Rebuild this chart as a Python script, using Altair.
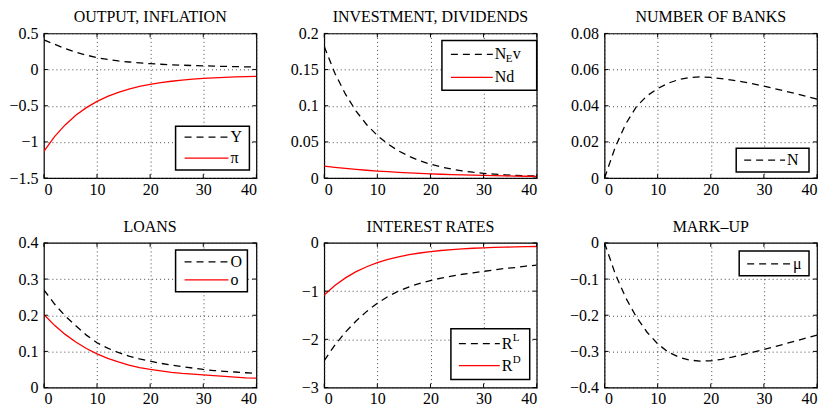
import altair as alt
import pandas as pd

# ---------------- data ----------------
t = [0, 2, 4, 6, 8, 10, 12, 14, 16, 18, 20, 22, 24, 26, 28, 30, 32, 34, 36, 38, 40]

output_Y = [0.41, 0.35, 0.29, 0.24, 0.20, 0.165, 0.14, 0.12, 0.105, 0.092, 0.082,
            0.074, 0.067, 0.061, 0.056, 0.052, 0.048, 0.044, 0.041, 0.038, 0.035]
inflation_pi = [-1.13, -0.927, -0.765, -0.632, -0.526, -0.440, -0.371, -0.315, -0.269, -0.233, -0.204,
                -0.180, -0.161, -0.145, -0.133, -0.122, -0.114, -0.108, -0.102, -0.098, -0.095]

invest_NEv = [0.182, 0.145, 0.116, 0.0925, 0.0738, 0.0589, 0.0470, 0.0375, 0.0300, 0.0240, 0.0192,
              0.0154, 0.0124, 0.0100, 0.0081, 0.0066, 0.0054, 0.0045, 0.0038, 0.0032, 0.0028]
dividends_Nd = [0.0165, 0.0148, 0.0133, 0.0120, 0.0108, 0.0097, 0.0088, 0.0080, 0.0072, 0.0065, 0.0059,
                0.0053, 0.0048, 0.0044, 0.0040, 0.0036, 0.0033, 0.0030, 0.0027, 0.0025, 0.0023]

banks_N = [0.0, 0.0170, 0.0300, 0.0395, 0.0455, 0.0495, 0.0525, 0.0545, 0.0556, 0.0560, 0.0557,
           0.0550, 0.0542, 0.0532, 0.0521, 0.0509, 0.0495, 0.0481, 0.0467, 0.0452, 0.0437]

loans_O = [0.270, 0.231, 0.198, 0.171, 0.145, 0.124, 0.109, 0.097, 0.087, 0.079, 0.073,
           0.067, 0.062, 0.058, 0.054, 0.050, 0.047, 0.045, 0.043, 0.041, 0.039]
loans_o = [0.202, 0.172, 0.147, 0.126, 0.108, 0.093, 0.081, 0.071, 0.062, 0.055, 0.050,
           0.046, 0.042, 0.039, 0.037, 0.035, 0.033, 0.031, 0.029, 0.027, 0.026]

rate_RL = [-2.44, -2.12, -1.85, -1.62, -1.42, -1.25, -1.11, -1.00, -0.91, -0.84, -0.78,
           -0.73, -0.69, -0.65, -0.62, -0.59, -0.56, -0.53, -0.51, -0.48, -0.46]
rate_RD = [-1.08, -0.883, -0.725, -0.597, -0.494, -0.410, -0.343, -0.288, -0.244, -0.209, -0.180,
           -0.157, -0.138, -0.123, -0.111, -0.101, -0.093, -0.087, -0.082, -0.078, -0.074]

markup_mu = [0.0, -0.085, -0.152, -0.205, -0.247, -0.279, -0.302, -0.316, -0.324, -0.327, -0.326,
             -0.322, -0.316, -0.309, -0.302, -0.295, -0.287, -0.279, -0.271, -0.263, -0.255]

x_ticks = [0, 10, 20, 30, 40]

# ---------------- style ----------------
W, H = 213, 145
FONT = "Liberation Serif"
BLACK = "#000000"
RED = "#ff0000"
DASH = [7, 5]
LW = 1.3
FS = 16

AXIS_STYLE = dict(grid=True, gridDash=[1, 3], gridColor="#333", gridOpacity=0.9, gridWidth=1,
                  ticks=False, domain=False, labelFont=FONT, labelFontSize=FS, labelColor=BLACK,
                  title=None)


def panel(title, series, ydom, yticks, legend):
    xaxis = alt.Axis(values=x_ticks, format="d", labelPadding=3, **AXIS_STYLE)
    yaxis = alt.Axis(values=yticks, format=".2~f", labelPadding=6, **AXIS_STYLE)
    xs = alt.Scale(domain=[0, 40], nice=False, zero=False)
    ys = alt.Scale(domain=ydom, nice=False, zero=False)
    X = alt.X("t:Q", scale=xs, axis=xaxis)
    Y = alt.Y("v:Q", scale=ys, axis=yaxis)

    layers = []
    for vals, color, dash in series:
        df = pd.DataFrame({"t": t, "v": vals})
        props = dict(color=color, strokeWidth=LW, clip=True)
        if dash:
            props["strokeDash"] = dash
        layers.append(alt.Chart(df).mark_line(**props).encode(x=X, y=Y))

    # inward tick marks (MATLAB style)
    xt = pd.DataFrame({"t": x_ticks})
    yt = pd.DataFrame({"v": yticks})
    for y1, y2 in [(0, 4), (H - 4, H)]:
        layers.append(alt.Chart(xt).mark_rule(color=BLACK, strokeWidth=1).encode(
            x=X, y=alt.value(y1), y2=alt.value(y2)))
    for x1, x2 in [(0, 4), (W - 4, W)]:
        layers.append(alt.Chart(yt).mark_rule(color=BLACK, strokeWidth=1).encode(
            y=Y, x=alt.value(x1), x2=alt.value(x2)))

    # legend box
    one = pd.DataFrame({"a": [0]})
    bx1, bx2, by1, by2 = legend["box"]
    layers.append(alt.Chart(one).mark_rect(fill="white", stroke=BLACK, strokeWidth=1.5).encode(
        x=alt.value(bx1), x2=alt.value(bx2), y=alt.value(by1), y2=alt.value(by2)))
    lx1, lx2 = legend["line"]
    for ly, color, dash, parts in legend["entries"]:
        props = dict(color=color, strokeWidth=LW)
        if dash:
            props["strokeDash"] = dash
        layers.append(alt.Chart(one).mark_rule(**props).encode(
            x=alt.value(lx1), x2=alt.value(lx2), y=alt.value(ly)))
        for (txt, dx, dy, fs) in parts:
            layers.append(alt.Chart(one).mark_text(
                text=txt, align="left", baseline="middle", font=FONT, fontSize=fs, color=BLACK
            ).encode(x=alt.value(lx2 + 2 + dx), y=alt.value(ly + dy)))

    return alt.layer(*layers).properties(
        width=W, height=H,
        title=alt.TitleParams(title, font=FONT, fontSize=FS, fontWeight="normal", color=BLACK, offset=0),
    )


p1 = panel("OUTPUT, INFLATION",
           [(output_Y, BLACK, DASH), (inflation_pi, RED, None)],
           [-1.5, 0.5], [-1.5, -1, -0.5, 0, 0.5],
           {"box": (132, 206, 93, 137), "line": (141, 185),
            "entries": [(104, BLACK, DASH, [("Y", 0, 0, FS)]),
                        (125, RED, None, [("π", 0, 0, FS)])]})
p2 = panel("INVESTMENT, DIVIDENDS",
           [(invest_NEv, BLACK, DASH), (dividends_Nd, RED, None)],
           [0, 0.2], [0, 0.05, 0.1, 0.15, 0.2],
           {"box": (118, 213, 7, 57), "line": (127, 169),
            "entries": [(21, BLACK, DASH, [("N", 0, 0, FS), ("E", 11, 5, 11), ("v", 18, 0, FS)]),
                        (44, RED, None, [("Nd", 0, 0, FS)])]})
p3 = panel("NUMBER OF BANKS",
           [(banks_N, BLACK, DASH)],
           [0, 0.08], [0, 0.02, 0.04, 0.06, 0.08],
           {"box": (132, 205, 115, 139), "line": (140, 181),
            "entries": [(127, BLACK, DASH, [("N", 0, 0, FS)])]})
p4 = panel("LOANS",
           [(loans_O, BLACK, DASH), (loans_o, RED, None)],
           [0, 0.4], [0, 0.1, 0.2, 0.3, 0.4],
           {"box": (132, 204, 7, 49), "line": (141, 185),
            "entries": [(19, BLACK, DASH, [("O", 0, 0, FS)]),
                        (37, RED, None, [("o", 0, 0, FS)])]})
p5 = panel("INTEREST RATES",
           [(rate_RL, BLACK, DASH), (rate_RD, RED, None)],
           [-3, 0], [-3, -2, -1, 0],
           {"box": (127, 206, 86, 137), "line": (135, 176),
            "entries": [(101, BLACK, DASH, [("R", 0, 0, FS), ("L", 11, -6, 11)]),
                        (123, RED, None, [("R", 0, 0, FS), ("D", 11, -6, 11)])]})
p6 = panel("MARK–UP",
           [(markup_mu, BLACK, DASH)],
           [-0.4, 0], [-0.4, -0.3, -0.2, -0.1, 0],
           {"box": (135, 205, 8, 33), "line": (143, 187),
            "entries": [(21, BLACK, DASH, [("μ", 0, 0, FS)])]})

chart = alt.concat(p1, p2, p3, p4, p5, p6, columns=3,
                   spacing={"row": 65, "column": 68}, bounds="flush").properties(
    padding={"left": 0, "top": 0, "right": 0, "bottom": 0},
    background="white",
).configure_view(
    stroke=BLACK, strokeWidth=1.2
)

chart.save("out.html", embed_options={"renderer": "svg", "actions": False})
